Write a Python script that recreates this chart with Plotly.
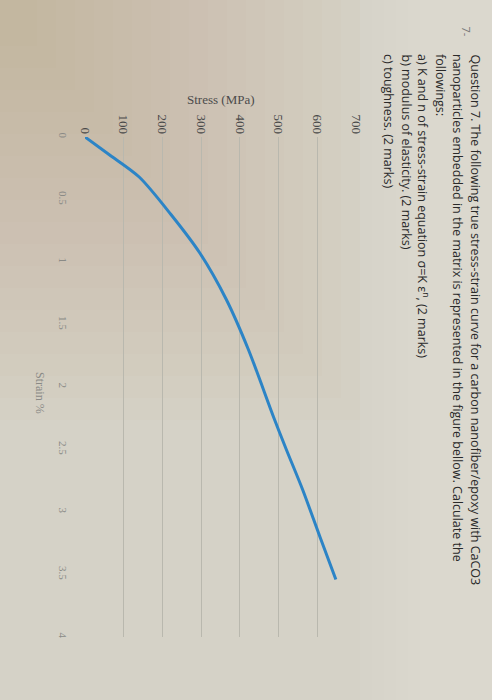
import plotly.graph_objects as go

# Photographed exam page, turned a quarter clockwise: stress runs along the top,
# strain runs down the left side, the question text sits on the right.
STRAIN = [0, 0.14, 0.32, 0.62, 0.93, 1.30, 1.70, 2.24, 2.50, 2.82, 3.20, 3.54]
STRESS = [0, 62, 140, 222, 297, 365, 422, 487, 520, 562, 607, 648]

STRESS_TICKS = [0, 100, 200, 300, 400, 500, 600, 700]
STRAIN_TICKS = [0, 0.5, 1, 1.5, 2, 2.5, 3, 3.5, 4]
STRAIN_LABELS = ["0", "0.5", "1", "1.5", "2", "2.5", "3", "3.5", "4"]

QUESTION_LINES = [
    "Question 7. The following true stress-strain curve for a carbon nanofiber/epoxy with CaCO3",
    "nanoparticles embedded in the matrix is represented in the figure bellow. Calculate the",
    "followings:",
    "a) K and n of stress-strain equation σ=K ε<sup>n</sup>, (2 marks)",
    "b) modulus of elasticity. (2 marks)",
    "c) toughness. (2 marks)",
]

W, H = 492, 700
PLOT_L, PLOT_R, PLOT_T, PLOT_B = 85, 356, 137, 637

LINE_COLOR = "#2c84c6"
GRID_COLOR = "#b9b8ae"
PAPER_COLOR = "#d5d2c7"
TEXT_COLOR = "#2a2a2a"


def px(x, y):
    """Pixel position -> paper coordinates of the plot area."""
    return (x - PLOT_L) / (PLOT_R - PLOT_L), 1 - (y - PLOT_T) / (PLOT_B - PLOT_T)


fig = go.Figure(
    go.Scatter(
        x=STRESS,
        y=STRAIN,
        mode="lines",
        line=dict(color=LINE_COLOR, width=3, shape="spline", smoothing=0.8),
        hoverinfo="skip",
    )
)

# warm vignette of the photo in the upper left corner, built from thin layers
for i in range(18):
    x0, y0 = px(0, 0)
    x1, y1 = px(360 - i * 19, 420 - i * 22)
    fig.add_shape(type="rect", xref="paper", yref="paper", x0=x0, y0=y0, x1=x1, y1=y1,
                  line_width=0, fillcolor="rgba(160,128,95,0.016)", layer="below")
# lighter strip where the text is
for i in range(6):
    x0, y0 = px(360 + i * 12, 0)
    x1, y1 = px(492, 700)
    fig.add_shape(type="rect", xref="paper", yref="paper", x0=x0, y0=y0, x1=x1, y1=y1,
                  line_width=0, fillcolor="rgba(255,255,250,0.035)", layer="below")

annotations = []
ax, ay = px(221, 90)
annotations.append(dict(x=ax, y=ay, text="Stress (MPa)", showarrow=False,
                        font=dict(family="Liberation Serif", size=13, color="#4b4b4b")))
ax, ay = px(31, 393)
annotations.append(dict(x=ax, y=ay, text="Strain %", textangle=90, showarrow=False,
                        font=dict(family="Liberation Serif", size=12, color="#8a8a86")))

ax, ay = px(476, 24)
annotations.append(dict(x=ax, y=ay, text="7-", textangle=90, showarrow=False,
                        yanchor="top", font=dict(family="Open Sans", size=11, color="#777")))
line_x = [475, 458, 441, 423, 406, 389]
for text, lx in zip(QUESTION_LINES, line_x):
    ax, ay = px(lx, 52)
    annotations.append(dict(x=ax, y=ay, text=text, textangle=90, showarrow=False,
                            yanchor="top", xanchor="center",
                            font=dict(family="Open Sans", size=12.5, color=TEXT_COLOR)))
for a in annotations:
    a.update(xref="paper", yref="paper")

fig.update_layout(
    width=W,
    height=H,
    margin=dict(l=PLOT_L, r=W - PLOT_R, t=PLOT_T, b=H - PLOT_B),
    paper_bgcolor=PAPER_COLOR,
    plot_bgcolor="rgba(0,0,0,0)",
    showlegend=False,
    annotations=annotations,
)
fig.update_xaxes(
    range=[0, 700],
    side="top",
    tickvals=STRESS_TICKS,
    tickangle=90,
    ticks="",
    showgrid=True,
    gridcolor=GRID_COLOR,
    gridwidth=1,
    zeroline=False,
    showline=False,
    tickfont=dict(family="Liberation Serif", size=13, color="#4a4a4a"),
)
fig.update_yaxes(
    range=[4, 0],
    tickvals=STRAIN_TICKS,
    ticktext=STRAIN_LABELS,
    tickangle=90,
    ticks="",
    ticklabelstandoff=14,
    showgrid=False,
    zeroline=False,
    showline=False,
    tickfont=dict(family="Liberation Serif", size=11, color="#8a8a86"),
)

fig.write_html(
    "out.html",
    config={"displayModeBar": False},
    post_script="document.body.style.margin = '0';",
)
